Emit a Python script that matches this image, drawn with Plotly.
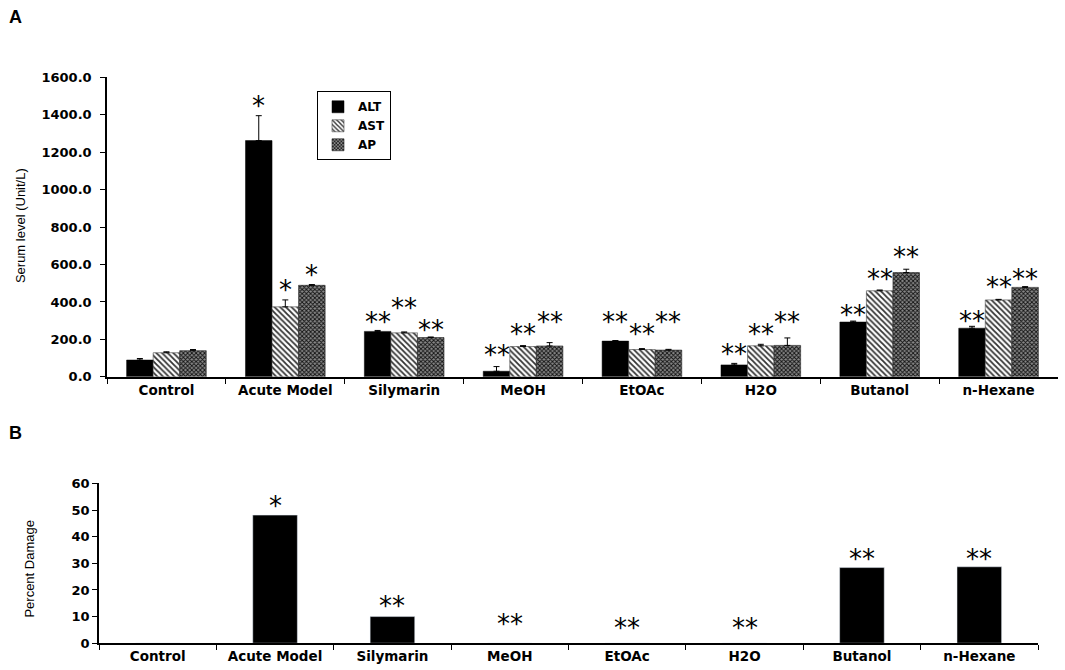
import plotly.graph_objects as go

categories = ["Control", "Acute Model", "Silymarin", "MeOH", "EtOAc", "H2O", "Butanol", "n-Hexane"]

alt_vals = [90, 1262, 243, 30, 191, 64, 293, 260]
alt_err = [8, 133, 5, 25, 3, 8, 5, 10]
ast_vals = [129, 374, 235, 162, 146, 166, 460, 411]
ast_err = [5, 37, 5, 5, 5, 8, 4, 3]
ap_vals = [140, 489, 210, 165, 143, 168, 557, 478]
ap_err = [6, 4, 3, 18, 4, 40, 18, 4]

alt_stars = ["", "*", "**", "**", "**", "**", "**", "**"]
ast_stars = ["", "*", "**", "**", "**", "**", "**", "**"]
ap_stars = ["", "*", "**", "**", "**", "**", "**", "**"]
alt_star_y = [0, 1456, 304, 130, 304, 135, 340, 308]
ast_star_y = [0, 476, 379, 242, 242, 242, 533, 491]
ap_star_y = [0, 556, 261, 304, 304, 304, 651, 535]

damage_vals = [0, 48.1, 10.0, 0, 0, 0, 28.4, 28.7]
damage_stars = ["", "*", "**", "**", "**", "**", "**", "**"]
damage_star_y = [0, 52.4, 14.9, 7.9, 6.6, 6.6, 32.3, 32.3]

W, H = 1065, 670
FONT = "DejaVu Sans, Arial, sans-serif"
NARROW = "Liberation Sans Narrow, Arial Narrow, Liberation Sans"


def fy(px):
    # vertical paper fraction for a target pixel row (compensates page-to-photo fit)
    return 1 - ((px - 5.6) / 0.979) / H


fig = go.Figure()

bargap = 0.33
bw = (1 - bargap) / 3

err_style = dict(type="data", symmetric=False, color="black", thickness=1, width=3)

fig.add_trace(go.Bar(
    x=categories, y=alt_vals, name="ALT", xaxis="x", yaxis="y",
    marker=dict(color="black", line=dict(color="black", width=0.5)),
    error_y=dict(array=alt_err, arrayminus=[0] * 8, **err_style),
))
fig.add_trace(go.Bar(
    x=categories, y=ast_vals, name="AST", xaxis="x", yaxis="y",
    marker=dict(color="white", line=dict(color="#444", width=0.6),
                pattern=dict(shape="\\", fgcolor="#333", bgcolor="white",
                             size=4, solidity=0.45, fillmode="replace")),
    error_y=dict(array=ast_err, arrayminus=[0] * 8, **err_style),
))
fig.add_trace(go.Bar(
    x=categories, y=ap_vals, name="AP", xaxis="x", yaxis="y",
    marker=dict(color="#666", line=dict(color="#222", width=0.6),
                pattern=dict(shape="x", fgcolor="#111", bgcolor="#888888",
                             size=3, solidity=0.5, fillmode="replace")),
    error_y=dict(array=ap_err, arrayminus=[0] * 8, **err_style),
))

fig.add_trace(go.Bar(
    x=categories, y=damage_vals, name="Percent Damage", xaxis="x2", yaxis="y2",
    width=0.38, marker=dict(color="black"), showlegend=False,
))

annotations = []
star_font = dict(family="DejaVu Sans, sans-serif", size=26, color="black")
STAR_SHIFT = -2
for series_i, (stars, ys) in enumerate([(alt_stars, alt_star_y), (ast_stars, ast_star_y), (ap_stars, ap_star_y)]):
    off = (series_i - 1) * bw
    for ci, (s, yv) in enumerate(zip(stars, ys)):
        if s:
            annotations.append(dict(x=ci + off, y=yv, xref="x", yref="y", text=s,
                                    showarrow=False, font=star_font, yanchor="middle", yshift=STAR_SHIFT))
for ci, (s, yv) in enumerate(zip(damage_stars, damage_star_y)):
    if s:
        annotations.append(dict(x=ci, y=yv, xref="x2", yref="y2", text=s,
                                showarrow=False, font=star_font, yanchor="middle", yshift=STAR_SHIFT))

annotations += [
    dict(x=7 / W, y=fy(16), xref="paper", yref="paper", text="<b>A</b>", showarrow=False,
         font=dict(family="Liberation Sans, Arial", size=18, color="black"), xanchor="left", yanchor="middle"),
    dict(x=7 / W, y=fy(432), xref="paper", yref="paper", text="<b>B</b>", showarrow=False,
         font=dict(family="Liberation Sans, Arial", size=18, color="black"), xanchor="left", yanchor="middle"),
    dict(x=20 / W, y=fy(225), xref="paper", yref="paper", text="Serum level (Unit/L)", showarrow=False,
         textangle=-90, font=dict(family=NARROW, size=13, color="black"),
         xanchor="center", yanchor="middle"),
    dict(x=30 / W, y=fy(568), xref="paper", yref="paper", text="Percent Damage", showarrow=False,
         textangle=-90, font=dict(family=NARROW, size=13, color="black"),
         xanchor="center", yanchor="middle"),
]

axis_common = dict(showline=True, linecolor="black", linewidth=1.5, ticks="outside",
                   tickcolor="black", ticklen=5, showgrid=False, zeroline=False)
xfont = dict(family=FONT, size=13.5, color="black", weight="bold")
yfont = dict(family=FONT, size=13, color="black", weight="bold")

fig.update_layout(
    width=W, height=H,
    margin=dict(l=0, r=0, t=0, b=0),
    paper_bgcolor="white", plot_bgcolor="white",
    barmode="group", bargap=bargap, bargroupgap=0,
    font=dict(family=FONT, color="black"),
    xaxis=dict(domain=[107 / W, 1058 / W], anchor="y", type="category", tickson="boundaries",
               tickfont=xfont, **axis_common),
    yaxis=dict(domain=[fy(376), fy(76)], anchor="x", range=[0, 1600], dtick=200,
               tickformat=".1f", tickfont=yfont, ticklabelstandoff=6, **axis_common),
    xaxis2=dict(domain=[99 / W, 1038 / W], anchor="y2", type="category", tickson="boundaries",
                tickfont=xfont, **axis_common),
    yaxis2=dict(domain=[fy(642.7), fy(482.7)], anchor="x2", range=[0, 60], dtick=10,
                tickfont=yfont, **axis_common),
    legend=dict(x=317 / W, y=fy(90), xanchor="left", yanchor="top",
                bordercolor="black", borderwidth=1, bgcolor="white",
                font=dict(family=FONT, size=12, color="black", weight="bold"),
                itemwidth=30, tracegroupgap=0),
    annotations=annotations,
)

fig.write_html("out.html", config={"displayModeBar": False},
               post_script="document.body.style.margin='0px';")
